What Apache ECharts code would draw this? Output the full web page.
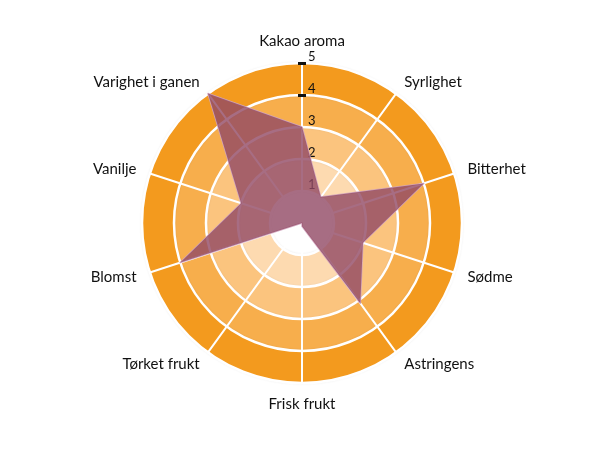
<!DOCTYPE html>
<html>
<head>
<meta charset="utf-8">
<script src="https://cdn.jsdelivr.net/npm/echarts@6/dist/echarts.min.js"></script>
<style>
html,body{margin:0;padding:0;background:#fff;}
#chart{width:610px;height:450px;}
</style>
</head>
<body>
<div id="chart"></div>
<script>
// Categories in clockwise order starting at top
const categories = ['Kakao aroma','Syrlighet','Bitterhet','Sødme','Astringens','Frisk frukt','Tørket frukt','Blomst','Vanilje','Varighet i ganen'];
const values = [3, 1, 4, 2, 3.1, 0.1, 0, 4, 2, 5];
const maxValue = 5;
const tickValues = [4, 5];

// ECharts radar runs counterclockwise; reorder so the picture reads clockwise
const order = [0];
for (let i = categories.length - 1; i >= 1; i--) order.push(i);

const fontFamily = 'Lato, "Open Sans", sans-serif';

const indicatorMain = order.map((idx, k) => {
  const ind = { name: categories[idx], min: 0, max: maxValue };
  if (k === 0) {
    ind.axisLabel = {
      show: true, color: '#111', fontSize: 13, fontFamily: fontFamily,
      margin: -6, align: 'left', verticalAlign: 'bottom', showMinLabel: false,
      formatter: v => (v === 0 ? '' : String(v))
    };
  }
  return ind;
});
function tickIndicators(len) {
  return order.map((idx, k) => {
    const ind = { name: categories[idx], min: 0, max: maxValue };
    if (k === 0) {
      ind.axisTick = { show: true, customValues: tickValues, length: len, lineStyle: { color: '#111', width: 3 } };
    }
    return ind;
  });
}
const hiddenRadar = (len) => ({
  center: [302, 223], radius: 160, startAngle: 90, splitNumber: 5, shape: 'circle',
  indicator: tickIndicators(len),
  axisName: { show: false },
  splitArea: { show: false },
  splitLine: { show: false },
  axisLine: { show: false },
  axisTick: { show: false },
  axisLabel: { show: false }
});

const chart = echarts.init(document.getElementById('chart'));
chart.setOption({
  animation: false,
  radar: [{
    center: [302, 223],
    radius: 160,
    startAngle: 90,
    splitNumber: 5,
    shape: 'circle',
    indicator: indicatorMain,
    nameGap: 14,
    axisName: { color: '#111', fontSize: 15, fontFamily: fontFamily },
    splitArea: { show: true, areaStyle: { color: ['#ffffff', '#FDDAB0', '#FBC47E', '#F7AE4C', '#F39A1E'], shadowColor: 'rgba(0,0,0,0.18)', shadowBlur: 3 } },
    splitLine: { lineStyle: { color: '#ffffff', width: 2.5 } },
    axisLine: { lineStyle: { color: '#ffffff', width: 2 } },
    axisTick: { show: false },
    axisLabel: { show: false }
  }, hiddenRadar(4), hiddenRadar(-4)],
  series: [{
    type: 'radar',
    radarIndex: 0,
    symbol: 'none',
    lineStyle: { color: 'rgba(210,165,190,0.9)', width: 1.5 },
    areaStyle: { color: 'rgb(145,72,100)', opacity: 0.8 },
    data: [{ value: order.map(i => values[i]) }]
  }]
});
</script>
</body>
</html>
